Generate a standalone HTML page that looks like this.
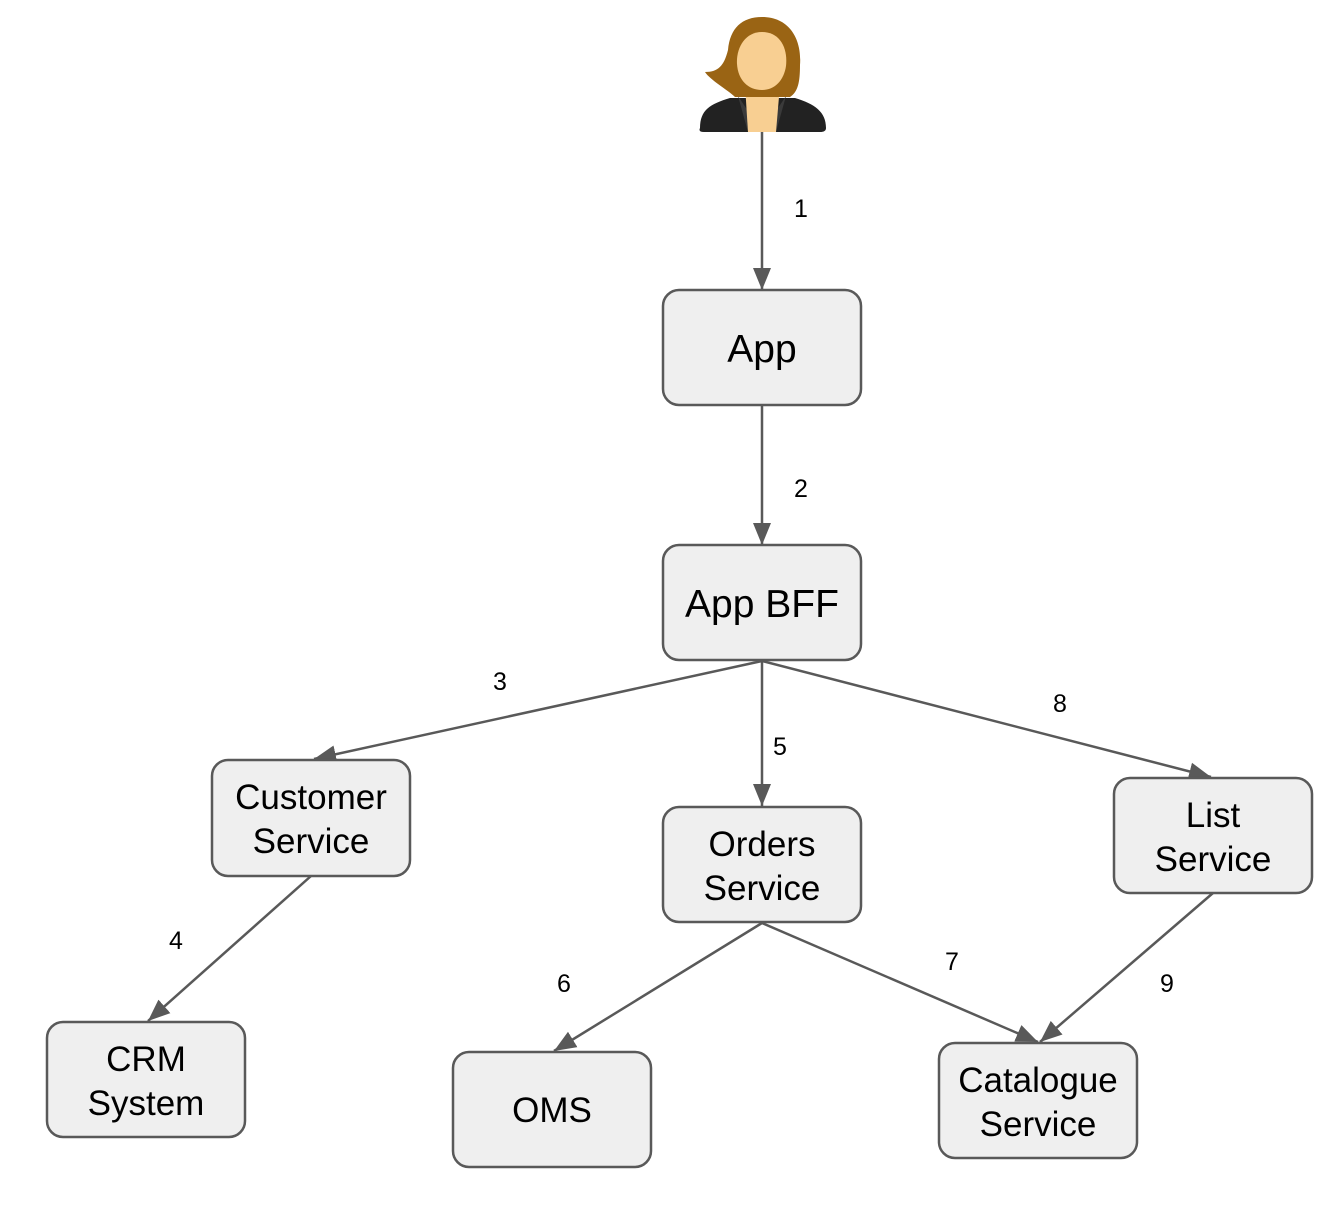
<!DOCTYPE html>
<html><head><meta charset="utf-8"><style>
html,body{margin:0;padding:0;background:#fff;}
svg{display:block;}
text{font-family:"Liberation Sans",Arial,sans-serif;fill:#000;}
</style></head><body>
<svg width="1344" height="1214" viewBox="0 0 1344 1214" xmlns="http://www.w3.org/2000/svg">
<defs>
<marker id="a" viewBox="0 0 22 22" refX="22" refY="11" markerWidth="22" markerHeight="22" markerUnits="userSpaceOnUse" orient="auto">
<path d="M0,2 L22,11 L0,20 Z" fill="#595959"/>
</marker>
</defs>
<g>
<path d="M700,128 C700,110 710,104 730,98 L795,98 C815,104 826,112 826,128 Q826,132 820,132 L704,132 Q698,132 700,128 Z" fill="#222"/>
<path d="M738,96 L762,132 L748,132 Z M786,96 L762,132 L776,132 Z" fill="#3a3a3a"/>
<path d="M745,85 L780,85 L776,132 L748,132 Z" fill="#f8cf92"/>
<path d="M762,17 C790,17 802,40 800,65 C800,82 798,92 790,97 L735,97 C728,90 710,80 705,72 C718,72 724,66 728,50 C730,28 742,17 762,17 Z" fill="#9a6414"/>
<path d="M762,32 C780,32 788,48 786,66 C784,80 775,90 762,90 C748,90 738,80 737,64 C736,48 745,32 762,32 Z" fill="#f8cf92"/>
</g>
<g stroke="#595959" stroke-width="2.5" fill="none">
<line x1="762" y1="132" x2="762" y2="290" marker-end="url(#a)"/>
<line x1="762" y1="405" x2="762" y2="545" marker-end="url(#a)"/>
<line x1="762" y1="661" x2="314" y2="759" marker-end="url(#a)"/>
<line x1="762" y1="661" x2="762" y2="806" marker-end="url(#a)"/>
<line x1="762" y1="661" x2="1211" y2="777" marker-end="url(#a)"/>
<line x1="311" y1="876" x2="148" y2="1021" marker-end="url(#a)"/>
<line x1="762" y1="923" x2="554" y2="1051" marker-end="url(#a)"/>
<line x1="762" y1="923" x2="1038" y2="1042" marker-end="url(#a)"/>
<line x1="1213" y1="893" x2="1040" y2="1042" marker-end="url(#a)"/>
</g>
<g fill="#efefef" stroke="#595959" stroke-width="2.5">
<rect x="663" y="290" width="198" height="115" rx="16"/>
<rect x="663" y="545" width="198" height="115" rx="16"/>
<rect x="212" y="760" width="198" height="116" rx="16"/>
<rect x="663" y="807" width="198" height="115" rx="16"/>
<rect x="1114" y="778" width="198" height="115" rx="16"/>
<rect x="47" y="1022" width="198" height="115" rx="16"/>
<rect x="453" y="1052" width="198" height="115" rx="16"/>
<rect x="939" y="1043" width="198" height="115" rx="16"/>
</g>
<g font-size="39" text-anchor="middle">
<text x="762" y="362">App</text>
<text x="762" y="617">App BFF</text>
</g>
<g font-size="35" text-anchor="middle">
<text x="311" y="809">Customer</text><text x="311" y="853">Service</text>
<text x="762" y="856">Orders</text><text x="762" y="900">Service</text>
<text x="1213" y="827">List</text><text x="1213" y="871">Service</text>
<text x="146" y="1071">CRM</text><text x="146" y="1115">System</text>
<text x="552" y="1122">OMS</text>
<text x="1038" y="1092">Catalogue</text><text x="1038" y="1136">Service</text>
</g>
<g font-size="25" text-anchor="middle">
<text x="801" y="217">1</text>
<text x="801" y="497">2</text>
<text x="500" y="690">3</text>
<text x="780" y="755">5</text>
<text x="1060" y="712">8</text>
<text x="176" y="949">4</text>
<text x="564" y="992">6</text>
<text x="952" y="970">7</text>
<text x="1167" y="992">9</text>
</g>
</svg>
</body></html>
